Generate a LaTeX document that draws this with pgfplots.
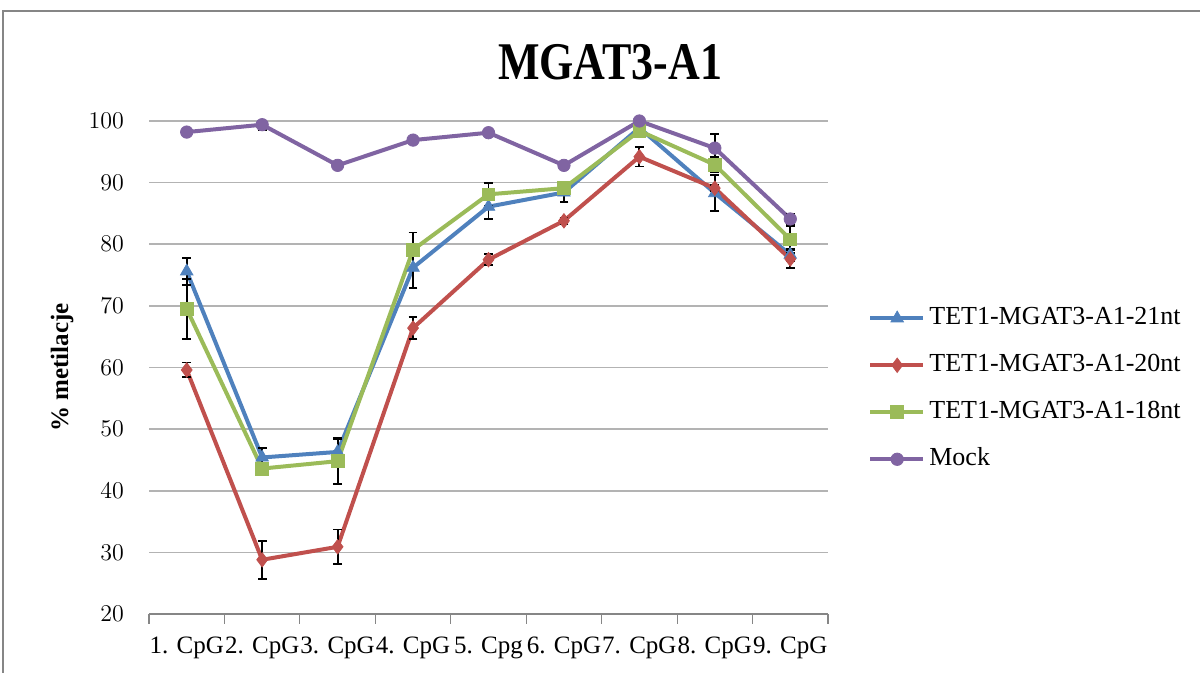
\documentclass[border=0pt]{standalone}
\usepackage{fontspec}
\setmainfont{Liberation Serif}
\usepackage{graphicx}
\usepackage{pgfplots}
\pgfplotsset{compat=1.18}
\definecolor{cblue}{HTML}{4F81BD}
\definecolor{cred}{HTML}{C0504D}
\definecolor{cgreen}{HTML}{9BBB59}
\definecolor{cpurple}{HTML}{8064A2}
\definecolor{cgrid}{HTML}{B3B3B3}
\definecolor{caxis}{HTML}{868686}
\begin{document}
\begin{tikzpicture}
\useasboundingbox (0,0) rectangle (600pt,336.5pt);
\draw[caxis, line width=0.6pt] (1.5pt,0) -- (1.5pt,331pt) -- (600pt,331pt);
\node[font=\fontsize{26.5}{30}\selectfont\bfseries, anchor=base] at (305pt,296.5pt) {\scalebox{0.83}[1]{MGAT3-A1}};
\begin{axis}[
  at={(74.5pt,29.5pt)}, anchor=south west,
  scale only axis, width=339.5pt, height=246.5pt,
  xmin=-0.5, xmax=8.5, ymin=20, ymax=100,
  xtick={0,...,8},
  xticklabels={1. CpG,2. CpG,3. CpG,4. CpG,5. Cpg,6. CpG,7. CpG,8. CpG,9. CpG},
  minor xtick={-0.5,0.5,...,8.5},
  ytick={20,30,...,100},
  major tick length=0pt, minor tick length=5pt,
  tick align=outside,
  xtick pos=bottom, ytick pos=left,
  minor tick style={caxis, line width=0.6pt},
  axis x line*=bottom, axis y line*=left,
  x axis line style={caxis, line width=0.6pt, -},
  y axis line style={draw=none},
  ymajorgrids, major grid style={cgrid, line width=0.8pt},
  ticklabel style={font=\fontsize{12.5}{15}\selectfont},
  xticklabel style={yshift=-8pt},
  yticklabel style={xshift=-9pt},
  ylabel={\% metilacje},
  every axis y label/.style={at={(axis description cs:-0.128,0.5)}, rotate=90, anchor=center, font=\fontsize{12.5}{15}\selectfont\bfseries},
  legend style={at={(rel axis cs:1.059,0.624)}, anchor=north west, draw=none, fill=none,
    inner sep=0pt, font=\fontsize{13}{15}\selectfont, row sep=12pt,
    nodes={inner ysep=0pt, inner xsep=2pt, text height=9pt, text depth=2.5pt}},
  legend cell align=left,
  legend image code/.code={\draw[mark repeat=2,mark phase=2,#1] plot coordinates {(0cm,0cm) (0.47cm,0cm) (0.93cm,0cm)};},
  every axis plot/.append style={line width=2pt, mark options={solid, line width=0.4pt}},
  error bars/error bar style={black, line width=0.9pt},
  error bars/error mark options={rotate=90, mark size=2.2pt, black, line width=0.9pt},
]
\addplot[cblue, mark=triangle*, mark size=3.6pt, error bars/.cd, y dir=both, y explicit] coordinates {
 (0,75.6) +- (0,2.2) (1,45.4) +- (0,1.5) (2,46.3) +- (0,2.0) (3,76.2) +- (0,3.3) (4,86.1) +- (0,2.0)
 (5,88.4) +- (0,1.5) (6,98.9) +- (0,0.5) (7,88.3) +- (0,2.9) (8,78.3) +- (0,1.0)};
\addlegendentry{TET1-MGAT3-A1-21nt}
\addplot[cred, mark=diamond*, mark size=3.6pt, error bars/.cd, y dir=both, y explicit] coordinates {
 (0,59.6) +- (0,1.2) (1,28.8) +- (0,3.1) (2,30.9) +- (0,2.8) (3,66.4) +- (0,1.8) (4,77.5) +- (0,0.9)
 (5,83.8) +- (0,0.5) (6,94.2) +- (0,1.6) (7,89.1) +- (0,0.5) (8,77.6) +- (0,1.5)};
\addlegendentry{TET1-MGAT3-A1-20nt}
\addplot[cgreen, mark=square*, mark size=3.2pt, error bars/.cd, y dir=both, y explicit] coordinates {
 (0,69.5) +- (0,4.9) (1,43.6) +- (0,0.5) (2,44.8) +- (0,3.7) (3,79.1) +- (0,2.8) (4,88.1) +- (0,1.8)
 (5,89.1) +- (0,0.5) (6,98.4) +- (0,0.5) (7,92.9) +- (0,1.2) (8,80.8) +- (0,2.2)};
\addlegendentry{TET1-MGAT3-A1-18nt}
\addplot[cpurple, mark=*, mark size=3.1pt, error bars/.cd, y dir=both, y explicit] coordinates {
 (0,98.2) +- (0,0) (1,99.4) +- (0,0.9) (2,92.8) +- (0,0) (3,96.9) +- (0,0) (4,98.1) +- (0,0)
 (5,92.8) +- (0,0) (6,100) +- (0,0) (7,95.6) +- (0,2.3) (8,84.1) +- (0,0.8)};
\addlegendentry{Mock}
\end{axis}
\end{tikzpicture}
\end{document}
